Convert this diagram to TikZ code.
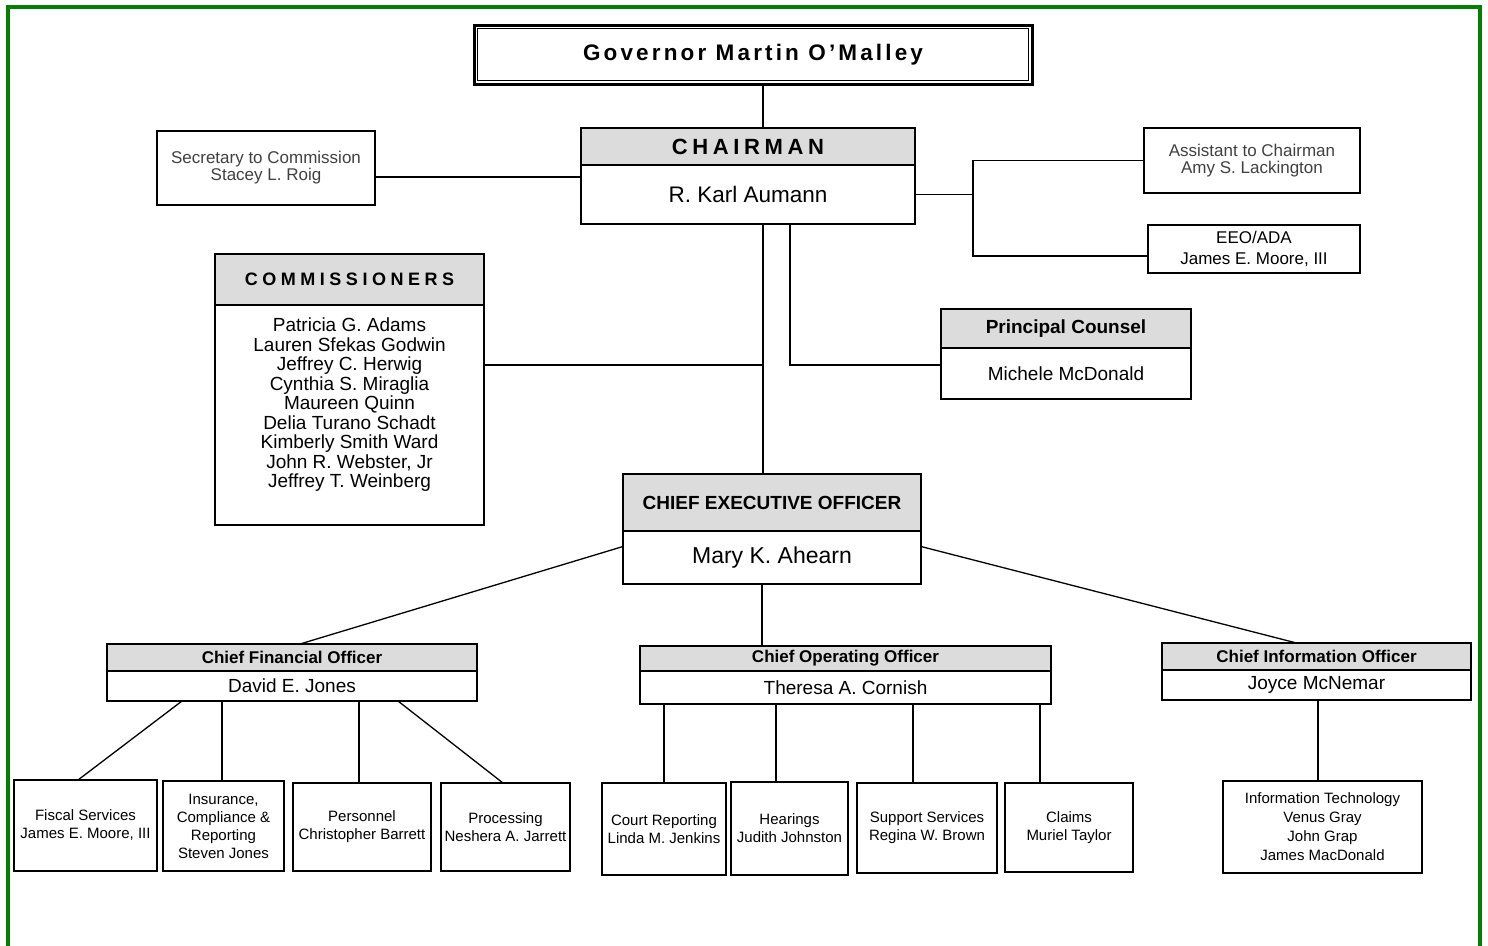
\documentclass[tikz,border=0pt]{standalone}
\usepackage{fontspec}
\setmainfont{Liberation Sans}
\usetikzlibrary{positioning}
\definecolor{hdgray}{RGB}{220,220,220}
\definecolor{framegreen}{RGB}{0,128,0}
\definecolor{softtext}{RGB}{64,64,64}

\begin{document}
\begin{tikzpicture}[x=1pt,y=-1pt,line width=1.3pt,
  box/.style={draw,outer sep=0pt,inner sep=1pt,align=center,minimum width=#1},
  hd/.style={box=#1,fill=hdgray,font=\bfseries\fontsize{17}{20}\selectfont},
  bd/.style={box=#1,fill=white,font=\fontsize{19}{22}\selectfont},
  spaced/.style 2 args={font=\bfseries\fontsize{#1}{22}\selectfont\addfontfeature{LetterSpace=#2}},
  side/.style={box=#1,text=softtext,font=\fontsize{17}{17}\selectfont},
  unit/.style={box=#1,font=\fontsize{15}{18}\selectfont}]
\useasboundingbox (0,0) rectangle (1488,945);
\draw[framegreen,line width=4pt] (8,960) -- (8,7) -- (1480,7) -- (1480,960);

% top of the chart
\node[box=558,minimum height=59,line width=3pt,spaced={22.5}{14}]
  (gov) at (753,54.5) {Governor Martin O’Malley};
\draw[line width=1pt] ([shift={(3.5pt,-3.5pt)}]gov.north west) rectangle ([shift={(-3.5pt,3.5pt)}]gov.south east);

\node[hd=334,minimum height=37,spaced={22}{21}] (chairhd) at (748,146.5) {CHAIRMAN};
\node[bd=334,minimum height=59,below=0pt of chairhd,font=\fontsize{22.5}{26}\selectfont] (chair) {R. Karl Aumann};

\node[side=218,minimum height=74] (sec) at (266,168) {Secretary to Commission\\Stacey L. Roig};
\node[side=216,minimum height=65] (asst) at (1252,160.5) {Assistant to Chairman\\Amy S. Lackington};
\node[box=212,minimum height=48,font=\fontsize{17}{21}\selectfont] (eeo) at (1254,249) {EEO/ADA\\James E. Moore, III};

\node[hd=250,minimum height=39,font=\bfseries\fontsize{19}{22}\selectfont] (pchd) at (1066,328.5) {Principal Counsel};
\node[bd=250,minimum height=51,below=0pt of pchd] (pc) {Michele McDonald};

\node[hd=269,minimum height=51,spaced={18}{25}] (comhd) at (349.5,279.5) {COMMISSIONERS};
\node[bd=269,minimum height=220,below=0pt of comhd] (com) {};
\node[align=center,font=\fontsize{19}{19.5}\selectfont] (comnames) at (349.5,405)
  {Patricia G. Adams\\Lauren Sfekas Godwin\\Jeffrey C. Herwig\\Cynthia S. Miraglia\\Maureen Quinn\\
   Delia Turano Schadt\\Kimberly Smith Ward\\John R. Webster, Jr\\Jeffrey T. Weinberg};

\node[hd=298,minimum height=57,font=\bfseries\fontsize{19}{22}\selectfont] (ceohd) at (772,502.5) {CHIEF EXECUTIVE OFFICER};
\node[bd=298,minimum height=53,below=0pt of ceohd,font=\fontsize{23}{26}\selectfont] (ceo) {Mary K. Ahearn};

% officers
\node[hd=370,minimum height=27] (cfohd) at (292,657.5) {Chief Financial Officer};
\node[bd=370,minimum height=30,below=0pt of cfohd] (cfo) {David E. Jones};
\node[hd=411,minimum height=25,yshift=-1pt] (coohd) at (845.5,657.5) {Chief Operating Officer};
\node[bd=411,minimum height=33,below=0pt of coohd] (coo) {Theresa A. Cornish};
\node[hd=309,minimum height=27] (ciohd) at (1316.5,656.5) {Chief Information Officer};
\node[bd=309,minimum height=30,below=0pt of ciohd] (cio) {Joyce McNemar};

% units
\node[unit=143,minimum height=91] (fisc) at (85.5,825.5) {Fiscal Services\\James E. Moore, III};
\node[unit=121,minimum height=90] (insur) at (223.5,826) {Insurance,\\Compliance \&\\Reporting\\Steven Jones};
\node[unit=138,minimum height=88] (pers) at (362,827) {Personnel\\Christopher Barrett};
\node[unit=129,minimum height=88] (proc) at (505.5,827) {Processing\\Neshera A. Jarrett};
\node[unit=124,minimum height=92] (court) at (664,829) {Court Reporting\\Linda M. Jenkins};
\node[unit=117,minimum height=93] (hear) at (789.5,828.5) {Hearings\\Judith Johnston};
\node[unit=140,minimum height=90] (supp) at (927,828) {Support Services\\Regina W. Brown};
\node[unit=128,minimum height=89] (claims) at (1069,827.5) {Claims\\Muriel Taylor};
\node[unit=199,minimum height=92,font=\fontsize{15}{19}\selectfont] (itech) at (1322.5,827)
  {Information Technology\\Venus Gray\\John Grap\\James MacDonald};

% connectors
\coordinate (spine) at ([xshift=-9pt]ceohd.north);
\coordinate (chj) at (973,198);
\draw ([xshift=10pt]gov.south) -- ([xshift=15pt]chairhd.north);
\draw ([yshift=-9pt]sec.east) -- ([yshift=-9pt]sec.east -| chair.west);
\draw (chair.east) -- (chair.east -| chj);
\draw (asst.west) -| ([yshift=-7pt]eeo.west -| chj) -- ([yshift=-7pt]eeo.west);
\draw ([xshift=42pt]chair.south) |- ([yshift=8.5pt]pc.west);
\draw ([xshift=15pt]chair.south) -- (spine);
\draw ([yshift=50pt]com.east) -- ([yshift=50pt]com.east -| spine);
\draw ([yshift=11pt]ceo.west) -- ([xshift=8pt]cfohd.north);
\draw ([yshift=11pt]ceo.east) -- ([xshift=-20pt]ciohd.north);
\draw ([xshift=-10pt]ceo.south) -- ([xshift=-10pt]ceo.south |- coohd.north);
\draw ([xshift=-110pt]cfo.south) -- ([xshift=-7.5pt]fisc.north);
\draw ([xshift=-1.5pt]insur.north |- cfo.south) -- ([xshift=-1.5pt]insur.north);
\draw ([xshift=-3pt]pers.north |- cfo.south) -- ([xshift=-3pt]pers.north);
\draw ([xshift=106pt]cfo.south) -- ([xshift=-2.5pt]proc.north);
\draw (court.north |- coo.south) -- (court.north);
\draw ([xshift=-13.5pt]hear.north |- coo.south) -- ([xshift=-13.5pt]hear.north);
\draw ([xshift=-14pt]supp.north |- coo.south) -- ([xshift=-14pt]supp.north);
\draw ([xshift=-29pt]claims.north |- coo.south) -- ([xshift=-29pt]claims.north);
\draw ([xshift=1.5pt]cio.south) -- ([xshift=1.5pt]cio.south |- itech.north);
\end{tikzpicture}
\end{document}
